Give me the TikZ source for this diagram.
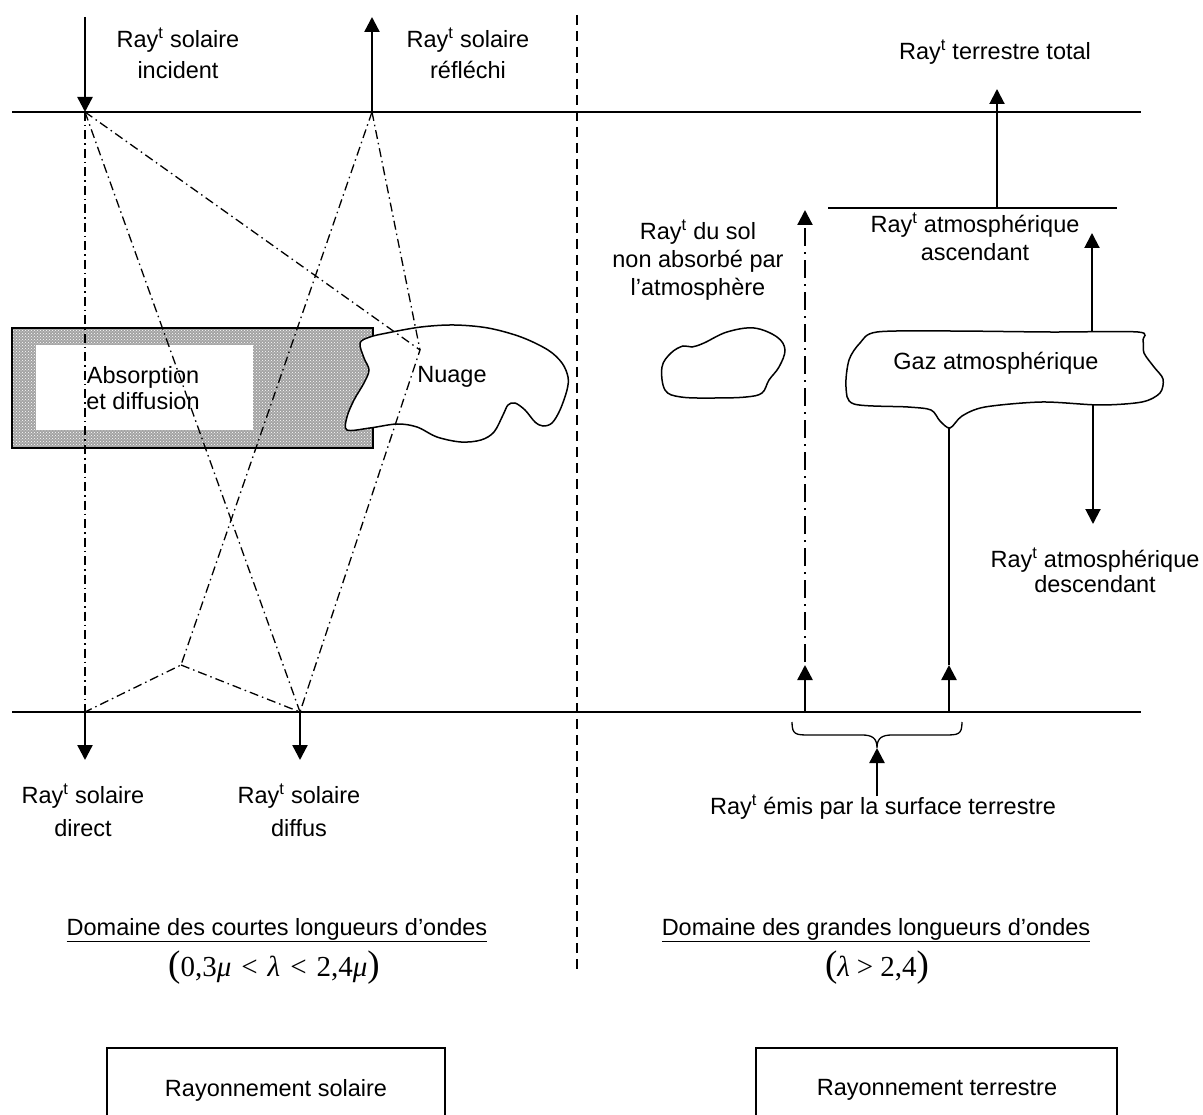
\documentclass[tikz,border=0pt]{standalone}
\usepackage{fontspec}
\setmainfont{Liberation Sans}
\newfontfamily\tmsfont{Liberation Serif}
\usetikzlibrary{arrows.meta,patterns}
\begin{document}
\begin{tikzpicture}[x=1pt,y=-1pt,
  lbl/.style={align=center,font=\fontsize{23.5}{28}\selectfont,inner sep=0pt},
  lblwide/.style={align=center,font=\fontsize{23.5}{31}\selectfont,inner sep=0pt},
  mathlbl/.style={inner sep=0pt,font=\tmsfont\fontsize{29}{32}\selectfont},
  ray/.style={line width=1.3pt,dash pattern=on 9pt off 4pt on 1.5pt off 4pt},
  raythick/.style={line width=2.2pt,dash pattern=on 18pt off 6pt on 2pt off 6pt,-{Triangle[width=15pt,length=15pt]}},
  bigarrow/.style={line width=2.4pt,-{Triangle[width=15pt,length=15pt]}},
  medarrow/.style={line width=2pt,-{Triangle[width=15pt,length=15pt]}},
  hline/.style={line width=1.6pt},
  thinline/.style={line width=1.3pt},
  divider/.style={line width=1.5pt,dash pattern=on 10pt off 6pt},
  cloudline/.style={line width=1.5pt,fill=white},
  boxline/.style={line width=1.2pt}
]
\useasboundingbox (0,0) rectangle (1203,1115);

% ---------- key coordinates ----------
\coordinate (T1) at (85,112);
\coordinate (T2) at (372,112);
\coordinate (B1) at (85,712);
\coordinate (B2) at (300,712);
\coordinate (Cn) at (420,350);
\coordinate (Lv) at (181,665);

% ---------- horizontal levels and divider ----------
\coordinate (TopL) at (12,112);  \coordinate (TopR) at (1141,112);
\coordinate (BotL) at (12,712);  \coordinate (BotR) at (1141,712);
\draw[hline] (TopL) -- (TopR);
\draw[hline] (BotL) -- (BotR);
\coordinate (DivT) at (577,15); \coordinate (DivB) at (577,975);
\draw[divider] (DivT) -- (DivB);

% ---------- absorption layer ----------
\fill[gray!72] (12,328) rectangle (373,448);
\fill[pattern=crosshatch dots,pattern color=white] (12,328) rectangle (373,448);
\draw[line width=1.2pt] (12,328) rectangle (373,448);
\fill[white] (36,345) rectangle (253,430);
\node[lbl,font=\fontsize{23.5}{26}\selectfont] (absorb) at (143,388) {Absorption\\et diffusion};

% ---------- Nuage ----------
\draw[cloudline] plot[smooth cycle,tension=0.55] coordinates {
 (347,430) (370,428) (397,424) (417,427) (437,437) (461,442) (481,440) (494,432)
 (503,415) (508,405) (515,403) (525,410) (535,422) (543,426) (552,423) (560,410)
 (567,390) (568,377) (562,363) (548,350) (521,337) (488,328) (454,325) (421,327)
 (387,333) (370,337) (360,343) (364,358) (369,370) (364,383) (354,400) (347,417)};
\node[lbl] (nuage) at (452,377) {Nuage};

% ---------- solar rays ----------
\draw[ray] (T1) -- (B1);
\draw[ray] (T1) -- (B2);
\draw[ray] (T1) -- (Cn) -- (B2);
\draw[ray] (T2) -- (Cn);
\draw[ray] (T2) -- (Lv) -- (B1);
\draw[ray] (Lv) -- (B2);

\coordinate (IncTop) at (85,17);
\coordinate (RefTop) at (372,17);
\draw[bigarrow] (IncTop) -- (T1);
\draw[bigarrow] (T2) -- (RefTop);
\coordinate (DirEnd) at (85,760);
\coordinate (DifEnd) at (300,760);
\draw[bigarrow] (B1) -- (DirEnd);
\draw[bigarrow] (B2) -- (DifEnd);

\node[lblwide] (inc) at (178,53) {Ray\textsuperscript{t} solaire\\incident};
\node[lblwide] (refl) at (468,53) {Ray\textsuperscript{t} solaire\\réfléchi};
\node[lblwide,font=\fontsize{23.5}{33}\selectfont] (direct) at (83,810) {Ray\textsuperscript{t} solaire\\direct};
\node[lblwide,font=\fontsize{23.5}{33}\selectfont] (diffus) at (299,810) {Ray\textsuperscript{t} solaire\\diffus};

% ---------- terrestrial side ----------
\draw[cloudline] plot[smooth cycle,tension=0.6] coordinates {
 (662,367) (671,353) (683,346) (692,347) (704,343) (727,332) (754,328) (777,337)
 (785,350) (779,367) (769,380) (762,393) (746,397) (715,398) (681,397) (665,390)};

\draw[cloudline] plot[smooth cycle,tension=0.5] coordinates {
 (877,332) (950,331) (1050,332) (1138,332) (1143,340) (1144,353) (1154,367) (1163,379)
 (1160,393) (1142,402) (1100,405) (1042,402) (985,407) (962,416) (950,428) (940,421)
 (931,410) (908,407) (854,404) (846,387) (849,360) (860,343)};
\node[lbl] (gaz) at (996,363) {Gaz atmosphérique};

\coordinate (S1) at (805,712); \coordinate (S1m) at (805,665);
\coordinate (S1a) at (805,662); \coordinate (S1t) at (805,210);
\draw[bigarrow] (S1) -- (S1m);
\draw[raythick] (S1a) -- (S1t);

\coordinate (S2) at (949,712); \coordinate (S2m) at (949,665);
\coordinate (GazB) at (949,428);
\draw[bigarrow] (S2) -- (S2m);
\draw[thinline] (S2m) -- (GazB);

\coordinate (AscL) at (828,208); \coordinate (AscR) at (1117,208);
\draw[thinline] (AscL) -- (AscR);
\coordinate (TotB) at (997,208); \coordinate (TotT) at (997,89);
\draw[medarrow] (TotB) -- (TotT);

\coordinate (GazT) at (1092,332); \coordinate (UpT) at (1092,233);
\draw[medarrow] (GazT) -- (UpT);
\coordinate (GazD) at (1093,405); \coordinate (DnT) at (1093,524);
\draw[medarrow] (GazD) -- (DnT);

\node[lbl] (total) at (995,52) {Ray\textsuperscript{t} terrestre total};
\node[lbl] (ascend) at (975,237) {Ray\textsuperscript{t} atmosphérique\\ascendant};
\node[lbl] (sol) at (698,260) {Ray\textsuperscript{t} du sol\\non absorbé par\\l’atmosphère};
\node[lbl,font=\fontsize{23.5}{25}\selectfont] (descend) at (1095,570) {Ray\textsuperscript{t} atmosphérique\\descendant};

% brace
\coordinate (BrL) at (792,722); \coordinate (BrR) at (962,722); \coordinate (BrM) at (877,748);
\draw[line width=1.3pt] (BrL) .. controls (792,735) and (796,735) .. (810,735) -- (862,735)
  .. controls (872,735) and (877,738) .. (BrM)
  .. controls (877,738) and (882,735) .. (892,735) -- (944,735)
  .. controls (958,735) and (962,735) .. (BrR);
\node[lbl] (emis) at (883,807) {Ray\textsuperscript{t} émis par la surface terrestre};
\coordinate (EmisTop) at (877,796);
\draw[bigarrow] (EmisTop) -- (BrM);

% ---------- domain titles ----------
\node[lbl] (dom1) at (277,930) {\underline{Domaine des courtes longueurs d’ondes}};
\node[mathlbl] (f1) at (274,968) {{\fontsize{37}{37}\selectfont(}0,3\textit{μ}\hspace{10pt}<\hspace{10pt}\textit{λ}\hspace{10pt}<\hspace{10pt}2,4\textit{μ}{\fontsize{37}{37}\selectfont)}};
\node[lbl] (dom2) at (876,930) {\underline{Domaine des grandes longueurs d’ondes}};
\node[mathlbl] (f2) at (877,968) {{\fontsize{37}{37}\selectfont(}\textit{λ}\hspace{7pt}>\hspace{7pt}2,4{\fontsize{37}{37}\selectfont)}};

% ---------- bottom boxes ----------
\draw[boxline] (107,1116) -- (107,1048) -- (445,1048) -- (445,1116);
\draw[line width=2pt] (107,1048) -- (445,1048);
\node[lbl] (rsol) at (276,1090) {Rayonnement solaire};
\draw[boxline] (756,1116) -- (756,1048) -- (1117,1048) -- (1117,1116);
\draw[line width=2pt] (756,1048) -- (1117,1048);
\node[lbl] (rter) at (937,1090) {Rayonnement terrestre};
\end{tikzpicture}
\end{document}
